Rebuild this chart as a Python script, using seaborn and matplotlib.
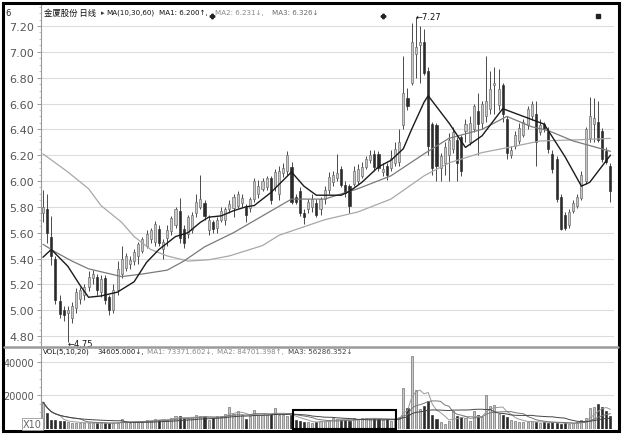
import numpy as np
import pandas as pd
import seaborn as sns
import matplotlib.pyplot as plt
from matplotlib.patches import Rectangle
from matplotlib.lines import Line2D
from matplotlib.ticker import FixedLocator, AutoMinorLocator

sns.set_style("white")
plt.rcParams['font.family'] = ['DejaVu Sans', 'Noto Sans CJK SC']

# daily candles
open_ = [5.75, 5.78, 5.57, 5.40, 5.07, 5.00, 4.98, 4.94, 5.02, 5.09,
         5.12, 5.18, 5.25, 5.26, 5.14, 5.25, 5.10, 5.00, 5.16, 5.28,
         5.33, 5.36, 5.38, 5.42, 5.46, 5.50, 5.55, 5.53, 5.63, 5.47,
         5.56, 5.61, 5.66, 5.77, 5.63, 5.59, 5.62, 5.75, 5.80, 5.83,
         5.62, 5.68, 5.64, 5.70, 5.70, 5.78, 5.79, 5.81, 5.83, 5.80,
         5.79, 5.86, 5.90, 5.94, 5.95, 6.02, 5.95, 5.90, 6.06, 6.08,
         6.11, 5.88, 5.92, 5.75, 5.78, 5.80, 5.83, 5.78, 5.86, 5.93,
         5.99, 6.02, 6.09, 5.97, 5.96, 5.98, 6.00, 6.04, 6.11, 6.16,
         6.21, 6.21, 6.07, 6.12, 6.10, 6.14, 6.15, 6.43, 6.64, 6.76,
         6.98, 7.05, 7.08, 6.85, 6.44, 6.43, 6.10, 6.14, 6.20, 6.25,
         6.32, 6.34, 6.39, 6.30, 6.40, 6.54, 6.45, 6.50, 6.56, 6.74,
         6.59, 6.74, 6.48, 6.20, 6.27, 6.31, 6.36, 6.43, 6.50, 6.52,
         6.38, 6.44, 6.39, 6.21, 6.17, 5.88, 5.74, 5.66, 5.77, 5.81,
         5.87, 6.00, 6.33, 6.44, 6.46, 6.39, 6.23, 6.12]
high = [5.93, 5.90, 5.73, 5.42, 5.12, 5.03, 5.03, 5.06, 5.17, 5.18,
        5.20, 5.30, 5.31, 5.28, 5.27, 5.27, 5.12, 5.20, 5.38, 5.50,
        5.44, 5.42, 5.47, 5.53, 5.57, 5.62, 5.64, 5.69, 5.66, 5.55,
        5.66, 5.73, 5.80, 5.87, 5.66, 5.74, 5.76, 5.90, 6.05, 5.85,
        5.74, 5.70, 5.72, 5.80, 5.80, 5.85, 5.90, 5.92, 5.90, 5.82,
        5.88, 6.02, 6.01, 6.02, 6.04, 6.04, 6.09, 6.12, 6.14, 6.23,
        6.15, 5.90, 5.95, 5.78, 5.86, 5.90, 5.86, 5.88, 5.96, 6.07,
        6.08, 6.21, 6.12, 6.00, 5.98, 6.12, 6.13, 6.15, 6.19, 6.24,
        6.24, 6.23, 6.14, 6.14, 6.24, 6.30, 6.40, 6.97, 6.72, 7.22,
        7.27, 7.20, 7.18, 6.88, 6.46, 6.45, 6.22, 6.30, 6.37, 6.42,
        6.34, 6.36, 6.48, 6.50, 6.60, 6.68, 6.62, 6.97, 6.85, 6.88,
        6.87, 6.76, 6.50, 6.27, 6.39, 6.45, 6.48, 6.58, 6.62, 6.62,
        6.48, 6.46, 6.42, 6.24, 6.19, 5.90, 5.76, 5.78, 5.85, 5.90,
        6.08, 6.42, 6.65, 6.64, 6.62, 6.41, 6.26, 6.14]
low = [5.68, 5.52, 5.35, 5.05, 4.94, 4.92, 4.75, 4.90, 4.98, 5.05,
       5.08, 5.15, 5.20, 5.12, 5.10, 5.05, 4.96, 4.98, 5.12, 5.25,
       5.30, 5.32, 5.35, 5.36, 5.44, 5.48, 5.52, 5.50, 5.50, 5.40,
       5.50, 5.58, 5.64, 5.52, 5.48, 5.56, 5.60, 5.72, 5.78, 5.70,
       5.58, 5.60, 5.60, 5.68, 5.66, 5.75, 5.72, 5.79, 5.80, 5.68,
       5.76, 5.84, 5.87, 5.92, 5.93, 5.82, 5.92, 5.85, 6.03, 6.05,
       5.82, 5.82, 5.73, 5.67, 5.75, 5.76, 5.72, 5.74, 5.82, 5.90,
       5.96, 6.00, 5.95, 5.88, 5.75, 5.96, 5.98, 6.02, 6.09, 6.14,
       6.08, 6.08, 6.04, 6.01, 6.08, 6.12, 6.12, 6.40, 6.55, 6.74,
       6.80, 6.76, 6.82, 6.20, 6.05, 6.00, 6.00, 6.05, 6.00, 6.22,
       6.00, 6.04, 6.30, 6.28, 6.38, 6.20, 6.40, 6.46, 6.52, 6.52,
       6.55, 6.46, 6.17, 6.18, 6.25, 6.29, 6.34, 6.40, 6.47, 6.12,
       6.36, 6.38, 6.22, 6.06, 5.84, 5.62, 5.62, 5.64, 5.75, 5.79,
       5.85, 5.98, 6.30, 6.30, 6.30, 6.15, 6.13, 5.84]
close = [5.80, 5.60, 5.42, 5.08, 4.97, 4.96, 5.00, 5.03, 5.14, 5.16,
         5.18, 5.26, 5.28, 5.16, 5.24, 5.08, 5.00, 5.16, 5.32, 5.40,
         5.42, 5.39, 5.45, 5.51, 5.55, 5.59, 5.62, 5.67, 5.52, 5.53,
         5.62, 5.71, 5.78, 5.56, 5.52, 5.72, 5.74, 5.84, 5.86, 5.73,
         5.70, 5.63, 5.70, 5.77, 5.78, 5.82, 5.88, 5.90, 5.87, 5.74,
         5.86, 6.00, 5.96, 6.00, 6.02, 5.85, 6.07, 6.08, 6.10, 6.20,
         5.84, 5.84, 5.75, 5.72, 5.84, 5.86, 5.74, 5.86, 5.93, 6.03,
         6.05, 6.06, 5.97, 5.91, 5.81, 6.08, 6.09, 6.11, 6.17, 6.20,
         6.11, 6.10, 6.09, 6.05, 6.18, 6.25, 6.30, 6.68, 6.58, 7.08,
         7.04, 7.08, 6.84, 6.27, 6.10, 6.12, 6.19, 6.26, 6.32, 6.38,
         6.14, 6.08, 6.44, 6.45, 6.58, 6.44, 6.60, 6.62, 6.71, 6.76,
         6.71, 6.52, 6.22, 6.24, 6.36, 6.41, 6.46, 6.56, 6.60, 6.30,
         6.43, 6.40, 6.25, 6.09, 5.86, 5.63, 5.64, 5.76, 5.83, 5.88,
         6.05, 6.40, 6.50, 6.49, 6.32, 6.17, 6.15, 5.92]
volume = [16000, 9500, 5500, 5200, 4800, 4500, 4200, 3600, 3800, 3500,
          3600, 3800, 3600, 3400, 3800, 3500, 3300, 3700, 3600, 6000,
          4200, 3700, 4300, 4500, 5000, 5600, 5000, 5800, 5400, 6200,
          5500, 6800, 7500, 7600, 6400, 6200, 7000, 8400, 8000, 7600,
          5200, 6800, 7500, 8000, 9200, 13000, 8800, 10500, 8400, 6000,
          7800, 11500, 8400, 8200, 8600, 8800, 12800, 8600, 8200, 7800,
          8400, 5500, 4600, 4000, 4400, 3800, 4200, 4600, 5000, 5200,
          6500, 5800, 5500, 5200, 4800, 6800, 6000, 6400, 6600, 6000,
          6800, 5800, 5400, 5800, 4600, 6200, 7000, 24500, 12500, 43500,
          23500, 12000, 13500, 16500, 8500, 6200, 4200, 3200, 4800, 11000,
          7500, 7200, 6500, 5000, 10500, 8200, 7000, 20500, 13500, 14500,
          9000, 8200, 7000, 5400, 4600, 4000, 4400, 4200, 4800, 4000,
          3800, 4200, 3600, 4000, 3600, 3200, 3400, 3000, 3400, 4200,
          5200, 6800, 12800, 13000, 14800, 13000, 10500, 7500]

# price moving averages (day index, value)
ma10_days = [0, 2, 6, 9, 11, 14, 18, 22, 25, 28, 32, 35, 38, 40, 43, 46, 49, 51, 55, 60, 63,
             66, 72, 74, 77, 81, 84, 87, 89, 92, 93, 98, 102, 106, 111, 116, 121, 122, 126,
             130, 132, 137]
ma10 = [5.41, 5.47, 5.34, 5.19, 5.10, 5.11, 5.14, 5.22, 5.37, 5.47, 5.57, 5.60, 5.68, 5.72,
        5.73, 5.77, 5.80, 5.81, 5.91, 6.07, 5.96, 5.89, 5.89, 5.92, 5.99, 6.11, 6.16, 6.25,
        6.40, 6.61, 6.66, 6.45, 6.26, 6.35, 6.56, 6.50, 6.44, 6.39, 6.19, 5.96, 5.99, 6.20]
ma30_days = [0, 3, 7, 11, 19, 24, 30, 34, 39, 46, 53, 60, 68, 76, 84, 92, 98, 106, 112, 118,
             122, 128, 137]
ma30 = [5.51, 5.45, 5.38, 5.32, 5.26, 5.28, 5.31, 5.38, 5.49, 5.60, 5.73, 5.86, 5.86, 5.94,
        6.04, 6.21, 6.33, 6.40, 6.50, 6.42, 6.39, 6.31, 6.23]
ma60_days = [0, 6, 11, 14, 19, 22, 26, 30, 35, 40, 45, 53, 57, 68, 76, 84, 92, 98, 106, 114,
             120, 130, 137]
ma60 = [6.21, 6.07, 5.94, 5.81, 5.68, 5.57, 5.47, 5.42, 5.38, 5.39, 5.42, 5.50, 5.58, 5.70,
        5.76, 5.86, 6.04, 6.14, 6.22, 6.27, 6.31, 6.32, 6.33]

price_ticks = [4.80, 5.00, 5.20, 5.40, 5.60, 5.80, 6.00, 6.20, 6.40, 6.60, 6.80, 7.00, 7.20]
vol_ticks = [20000, 40000]

df = pd.DataFrame({'open': open_, 'high': high, 'low': low, 'close': close, 'volume': volume})
df['day'] = np.arange(len(df))
df['up'] = df['close'] >= df['open']

W, H = 623, 435
fx = lambda px: px / W
fy = lambda py: 1 - py / H

fig = plt.figure(figsize=(W / 100, H / 100), dpi=100)
x0, x1 = -0.48, 137.86

ax = fig.add_axes([fx(41), fy(347), fx(614) - fx(41), fy(6) - fy(347)])
axv = fig.add_axes([fx(41), fy(430), fx(614) - fx(41), fy(348) - fy(430)])

up_fill, up_edge, dn_fill = '#c8c8c8', '#666666', '#2b2b2b'
bw = 0.5

# candles
ax.vlines(df['day'], df['low'], df['high'], color='#4a4a4a', lw=0.7, zorder=3)
body_lo = df[['open', 'close']].min(axis=1)
body_h = (df['close'] - df['open']).abs().clip(lower=0.012)
ax.bar(df['day'][df.up], body_h[df.up], bottom=body_lo[df.up], width=bw,
       color=up_fill, edgecolor=up_edge, lw=0.45, zorder=4)
ax.bar(df['day'][~df.up], body_h[~df.up], bottom=body_lo[~df.up], width=bw,
       color=dn_fill, edgecolor=dn_fill, lw=0.45, zorder=4)

sns.lineplot(x=ma60_days, y=ma60, ax=ax, color='#a8a8a8', lw=0.9, zorder=5)
sns.lineplot(x=ma30_days, y=ma30, ax=ax, color='#7a7a7a', lw=0.9, zorder=5)
sns.lineplot(x=ma10_days, y=ma10, ax=ax, color='#1a1a1a', lw=1.0, zorder=6)

ax.set_xlim(x0, x1)
ax.set_ylim(4.7226, 7.3626)
ax.yaxis.set_major_locator(FixedLocator(price_ticks))
ax.set_yticklabels([f'{t:.2f}' for t in price_ticks])
ax.yaxis.set_minor_locator(AutoMinorLocator(4))
ax.set_xticks([])
for t in price_ticks:
    ax.axhline(t, color='#dcdcdc', lw=0.8, zorder=0)

# low / high marks
lo_i = int(np.argmin(low))
hi_i = int(np.argmax(high))
ax.text(lo_i, low[lo_i] - 0.005, f'\u2190{low[lo_i]:.2f}', fontsize=6, va='center', ha='left', color='#111111')
ax.text(hi_i, high[hi_i], f'\u2190{high[hi_i]:.2f}', fontsize=6, va='center', ha='left', color='#111111')
ax.plot([40.8, 82.1], [7.28, 7.28], ls='none', marker='P', ms=3.2, color='#222222')
ax.plot([134], [7.28], ls='none', marker='s', ms=3, color='#222222')

# volume
axv.bar(df['day'][df.up], df['volume'][df.up], width=bw, color=up_fill, edgecolor=up_edge, lw=0.45)
axv.bar(df['day'][~df.up], df['volume'][~df.up], width=bw, color=dn_fill, edgecolor=dn_fill, lw=0.45)
for n, c in [(5, '#9a9a9a'), (10, '#777777'), (20, '#444444')]:
    sns.lineplot(x=df['day'], y=df['volume'].rolling(n, min_periods=1).mean(), ax=axv, color=c, lw=0.7)
axv.set_xlim(x0, x1)
axv.set_ylim(0, 48955)
axv.yaxis.set_major_locator(FixedLocator(vol_ticks))
axv.set_yticklabels([str(v) for v in vol_ticks])
axv.yaxis.set_minor_locator(AutoMinorLocator(4))
axv.set_xticks([])
axv.set_xlabel('')
axv.set_ylabel('')
ax.set_ylabel('')
for v in vol_ticks:
    axv.axhline(v, color='#dcdcdc', lw=0.8, zorder=0)
axv.add_patch(Rectangle((60.3, 0), 24.9, 11343, fill=False, ec='black', lw=1.5, zorder=8, clip_on=False))

for a, ls in ((ax, 8), (axv, 7)):
    for s in ('top', 'right', 'bottom'):
        a.spines[s].set_visible(False)
    a.spines['left'].set_color('#999999')
    a.spines['left'].set_linewidth(0.8)
    a.tick_params(axis='y', which='major', length=3, width=0.7, color='#999999',
                  labelsize=ls, labelcolor='#555555', pad=2, left=True)
    a.tick_params(axis='y', which='minor', length=1.5, width=0.5, color='#aaaaaa', left=True)

# separator and outer frame
fig.add_artist(Line2D([fx(4), fx(618)], [fy(347.5), fy(347.5)], color='#9a9a9a', lw=1.8))
fig.add_artist(Rectangle((fx(3), fy(432)), fx(619) - fx(3), fy(4) - fy(432), fill=False,
                         ec='black', lw=2.2, transform=fig.transFigure))

# headers
hs = 5.1
hy = fy(13)
fig.text(fx(5), hy, '6', fontsize=6, va='center', color='#222222')
fig.text(fx(44), hy, '金厦股份 日线', fontsize=6, va='center', color='#111111',
         family=['Noto Sans CJK SC', 'DejaVu Sans'])
fig.text(fx(101), hy, '\u25b8', fontsize=hs, va='center', color='#333333')
fig.text(fx(106), hy, 'MA(10,30,60)', fontsize=hs, va='center', color='#111111')
fig.text(fx(159), hy, 'MA1: 6.200\u2191,', fontsize=hs, va='center', color='#111111')
fig.text(fx(215), hy, 'MA2: 6.231\u2193,', fontsize=hs, va='center', color='#8a8a8a')
fig.text(fx(272), hy, 'MA3: 6.326\u2193', fontsize=hs, va='center', color='#6a6a6a')

vy = fy(352)
fig.text(fx(43), vy, 'VOL(5,10,20)', fontsize=hs, va='center', color='#111111')
fig.text(fx(97), vy, '34605.000\u2193,', fontsize=hs, va='center', color='#222222')
fig.text(fx(147), vy, 'MA1: 73371.602\u2193,', fontsize=hs, va='center', color='#8a8a8a')
fig.text(fx(217), vy, 'MA2: 84701.398\u2191,', fontsize=hs, va='center', color='#8a8a8a')
fig.text(fx(288), vy, 'MA3: 56286.352\u2193', fontsize=hs, va='center', color='#444444')

fig.text(fx(23), fy(425), 'X10', fontsize=7, va='center', color='#666666',
         bbox=dict(boxstyle='square,pad=0.1', fc='white', ec='#999999', lw=0.6))

fig.savefig('out.png', dpi=100)
